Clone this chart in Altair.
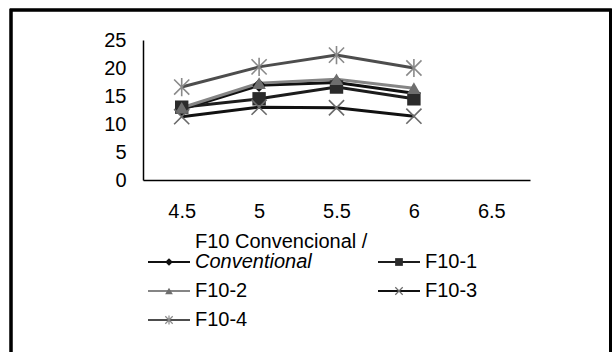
import altair as alt
import pandas as pd

# ---- data ----
ph = ["4.5", "5", "5.5", "6"]
x_labels = ["4.5", "5", "5.5", "6", "6.5"]
series_keys = ["conv", "f1", "f2", "f3", "f4"]
conv = [12.6, 16.9, 17.4, 15.5]
f10_1 = [13.0, 14.5, 16.6, 14.5]
f10_2 = [12.9, 17.3, 18.0, 16.4]
f10_3 = [11.3, 13.0, 12.9, 11.4]
f10_4 = [16.6, 20.2, 22.3, 20.0]
legend_label1 = ["F10 Convencional /", "F10-1", "F10-2", "F10-3", "F10-4"]
legend_label2 = ["Conventional", "", "", "", ""]
legend_col = [0, 1, 0, 1, 0]
legend_row = [0, 0, 1, 1, 2]
y_ticks = [0, 5, 10, 15, 20, 25]

values = [conv, f10_1, f10_2, f10_3, f10_4]
rows = []
for k, vals in zip(series_keys, values):
    for p, v in zip(ph, vals):
        rows.append({"series": k, "ph": p, "value": v})
df = pd.DataFrame(rows)

leg = pd.DataFrame({
    "series": series_keys,
    "label1": legend_label1,
    "label2": legend_label2,
    "col": legend_col,
    "row": legend_row,
})

# ---- styles ----
FONT = "Liberation Sans"
line_colors = ["#111111", "#1c1c1c", "#858585", "#111111", "#4d4d4d"]
marker_colors = ["#111111", "#2b2b2b", "#6e6e6e", "#6a6a6a", "#8a8a8a"]
X_PATH = "M-1,-1L1,1M-1,1L1,-1"
STAR_PATH = "M-1,-1L1,1M-1,1L1,-1M0,-1.2L0,1.2"
shapes = ["diamond", "square", "triangle-up", X_PATH, STAR_PATH]

color_scale = alt.Scale(domain=series_keys, range=line_colors)
fill_scale = alt.Scale(domain=series_keys, range=marker_colors)
shape_scale = alt.Scale(domain=series_keys, range=shapes)

filled_keys = ["conv", "f1", "f2"]
stroked_keys = ["f3", "f4"]

x_enc = alt.X("ph:O", scale=alt.Scale(type="point", domain=x_labels, padding=0.5),
              axis=alt.Axis(title=None, labelAngle=0, ticks=False, labelPadding=21,
                            domainColor="black", domainWidth=1.5, labelColor="black",
                            labelFont=FONT, labelFontSize=20))
y_enc = alt.Y("value:Q", scale=alt.Scale(domain=[0, 25], nice=False),
              axis=alt.Axis(title=None, values=y_ticks, ticks=False, grid=False, labelPadding=17,
                            domainColor="black", domainWidth=1.5, labelColor="black",
                            labelFont=FONT, labelFontSize=20))

base = alt.Chart(df)
lines = base.mark_line(strokeWidth=3).encode(
    x=x_enc, y=y_enc,
    color=alt.Color("series:N", scale=color_scale, legend=None),
    detail="series:N",
)
pts_filled = base.transform_filter(
    alt.FieldOneOfPredicate(field="series", oneOf=filled_keys)
).mark_point(filled=True, size=180, opacity=1).encode(
    x=x_enc, y=y_enc,
    fill=alt.Fill("series:N", scale=fill_scale, legend=None),
    shape=alt.Shape("series:N", scale=shape_scale, legend=None),
)
pts_stroked = base.transform_filter(
    alt.FieldOneOfPredicate(field="series", oneOf=stroked_keys)
).mark_point(filled=False, size=230, strokeWidth=1.6, opacity=1).encode(
    x=x_enc, y=y_enc,
    stroke=alt.Stroke("series:N", scale=fill_scale, legend=None),
    shape=alt.Shape("series:N", scale=shape_scale, legend=None),
)
main = alt.layer(lines, pts_filled, pts_stroked)

# ---- legend ----
lx = alt.X("col:Q", scale=alt.Scale(domain=[0, 1], range=[26, 256], nice=False, zero=False), axis=None)
ly = alt.Y("row:Q", scale=alt.Scale(domain=[0, 2], range=[222, 280], nice=False, zero=False), axis=None)
lbase = alt.Chart(leg)
leg_line = lbase.mark_point(shape="stroke", size=42 * 42, strokeWidth=2, opacity=1).encode(
    x=lx, y=ly, color=alt.Color("series:N", scale=color_scale, legend=None))
leg_filled = lbase.transform_filter(
    alt.FieldOneOfPredicate(field="series", oneOf=filled_keys)
).mark_point(filled=True, size=60, opacity=1).encode(
    x=lx, y=ly,
    fill=alt.Fill("series:N", scale=fill_scale, legend=None),
    shape=alt.Shape("series:N", scale=shape_scale, legend=None))
leg_stroked = lbase.transform_filter(
    alt.FieldOneOfPredicate(field="series", oneOf=stroked_keys)
).mark_point(filled=False, size=55, strokeWidth=1.2, opacity=1).encode(
    x=lx, y=ly,
    stroke=alt.Stroke("series:N", scale=fill_scale, legend=None),
    shape=alt.Shape("series:N", scale=shape_scale, legend=None))
txt_common = dict(align="left", baseline="middle", dx=26, font=FONT, fontSize=20, color="black")
leg_text = lbase.transform_filter(alt.datum.series != "conv").mark_text(**txt_common).encode(
    x=lx, y=ly, text="label1:N")
leg_text1 = lbase.transform_filter(alt.datum.series == "conv").mark_text(dy=-20, **txt_common).encode(
    x=lx, y=ly, text="label1:N")
leg_text2 = lbase.transform_filter(alt.datum.series == "conv").mark_text(fontStyle="italic", **txt_common).encode(
    x=lx, y=ly, text="label2:N")
legend_layer = alt.layer(leg_line, leg_filled, leg_stroked, leg_text, leg_text1, leg_text2)

frame = alt.Chart(leg).mark_rect(filled=False, stroke="black", strokeWidth=2.5).encode(
    x=alt.value(-132), x2=alt.value(467.5), y=alt.value(-30), y2=alt.value(330))

chart = alt.layer(main, legend_layer, frame).resolve_scale(
    x="independent", y="independent"
).properties(
    width=387, height=140,
    padding={"left": 143, "top": 40, "right": 83, "bottom": 172},
    autosize=alt.AutoSizeParams(type="none"),
    background="white",
).configure_view(strokeWidth=0)

chart.save("out.html", embed_options={"renderer": "svg", "actions": False})
